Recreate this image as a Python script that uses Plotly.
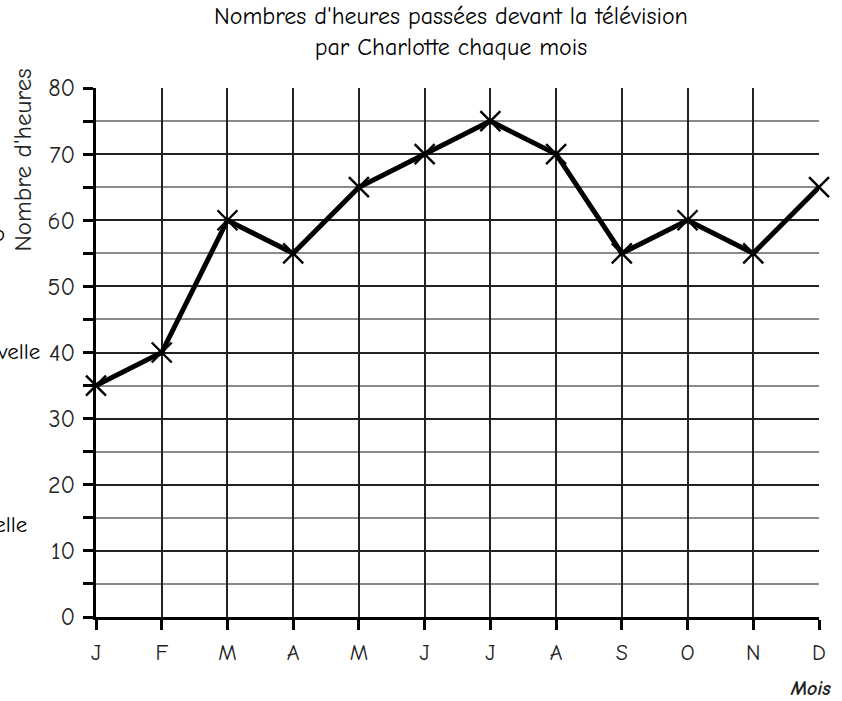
import plotly.graph_objects as go

months = ["J", "F", "M", "A", "M", "J", "J", "A", "S", "O", "N", "D"]
hours = [35, 40, 60, 55, 65, 70, 75, 70, 55, 60, 55, 65]
y_ticks = [0, 10, 20, 30, 40, 50, 60, 70, 80]
title_lines = ["Nombres d'heures passées devant la télévision", "par Charlotte chaque mois"]

FONT = "Comic Sans MS, Comic Neue, Lato, DejaVu Sans, sans-serif"
xs = list(range(len(months)))

fig = go.Figure()
fig.add_trace(go.Scatter(
    x=xs, y=hours, mode="lines+markers",
    line=dict(color="black", width=5),
    marker=dict(symbol="x-thin", size=20, line=dict(color="black", width=2.4), color="black"),
    cliponaxis=False, showlegend=False,
))

fig.update_layout(
    width=842, height=701,
    margin=dict(l=96, r=23, t=88, b=84),
    paper_bgcolor="white", plot_bgcolor="white",
    font=dict(family=FONT, color="#222"),
    xaxis=dict(
        range=[0, 11], tickmode="array", tickvals=xs, ticktext=months,
        showgrid=True, gridcolor="#222", gridwidth=1.6,
        showline=True, linecolor="black", linewidth=3,
        ticks="outside", ticklen=10, tickwidth=3, tickcolor="black",
        tickfont=dict(size=22, color="#222"),
        ticklabelstandoff=4,
        zeroline=False, fixedrange=True,
    ),
    yaxis=dict(
        range=[0, 80], tickmode="array", tickvals=y_ticks,
        showgrid=True, gridcolor="#222", gridwidth=1.6,
        showline=True, linecolor="black", linewidth=3,
        ticks="outside", ticklen=10, tickwidth=3, tickcolor="black",
        tickfont=dict(size=24, color="#222"),
        ticklabelstandoff=3,
        minor=dict(dtick=5, tick0=0, showgrid=True, gridcolor="#8a8a8a", gridwidth=2.2,
                   ticks="outside", ticklen=10, tickwidth=3, tickcolor="black"),
        zeroline=False, fixedrange=True,
    ),
)

# two-line title as one text block
fig.add_annotation(text="<br>".join(title_lines), xref="paper", yref="paper",
                   x=0.491, y=1.106, xanchor="center", yanchor="middle", showarrow=False,
                   align="center", font=dict(family=FONT, size=24, color="black"))

fig.add_annotation(text="Nombre d'heures", textangle=-90, xref="paper", yref="paper",
                   x=-0.102, y=1.04, xanchor="center", yanchor="top", showarrow=False,
                   font=dict(family=FONT, size=25, color="#222"))
fig.add_annotation(text="<b><i>Mois</i></b>", xref="paper", yref="paper",
                   x=1.02, y=-0.11, xanchor="right", yanchor="top", showarrow=False,
                   font=dict(family=FONT, size=20, color="#222"))
# clipped text fragments on the left edge of the reference image
fig.add_annotation(text="Nouvelle", xref="paper", yref="paper",
                   x=-0.074, y=0.502, xanchor="right", yanchor="middle", showarrow=False,
                   font=dict(family=FONT, size=23, color="black"))
fig.add_annotation(text="Nouvelle", xref="paper", yref="paper",
                   x=-0.093, y=0.175, xanchor="right", yanchor="middle", showarrow=False,
                   font=dict(family=FONT, size=23, color="black"))
fig.add_annotation(text="o", xref="paper", yref="paper",
                   x=-0.123, y=0.725, xanchor="right", yanchor="middle", showarrow=False,
                   font=dict(family=FONT, size=23, color="black"))

fig.write_html("out.html", post_script="document.body.style.margin='0';",
               config={"displayModeBar": False})
